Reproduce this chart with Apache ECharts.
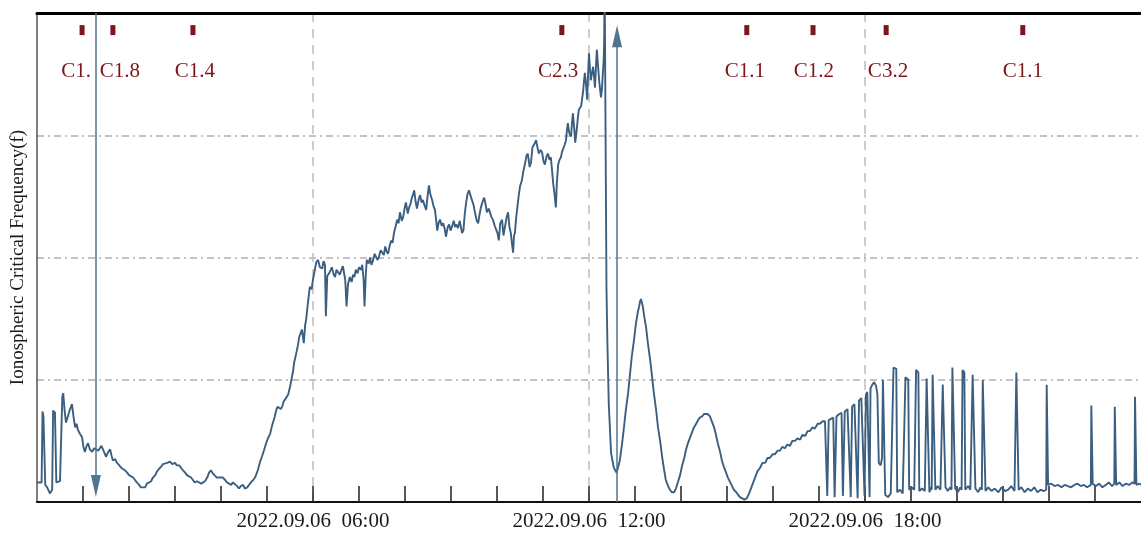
<!DOCTYPE html>
<html><head><meta charset="utf-8">
<script src="https://cdn.jsdelivr.net/npm/echarts@6/dist/echarts.min.js"></script>
<style>html,body{margin:0;padding:0;background:#fff}#c{width:1141px;height:534px}</style>
</head><body><div id="c"></div>
<script>
// time in hours of 2022.09.06, value = ionospheric critical frequency (relative units)
const segNight = [[0,0.16],[0.1,0.16],[0.12,0.74],[0.14,0.7],[0.18,0.14],[0.22,0.12],[0.28,0.07],[0.33,0.1],[0.35,0.75],[0.37,0.72],[0.39,0.74],[0.42,0.16],[0.46,0.15],[0.5,0.17],[0.53,0.16],[0.55,0.86],[0.57,0.89],[0.6,0.75],[0.63,0.65],[0.67,0.7],[0.72,0.76],[0.76,0.8],[0.8,0.68],[0.83,0.61],[0.86,0.64],[0.89,0.59],[0.93,0.56],[0.98,0.53],[1.01,0.45],[1.04,0.41],[1.08,0.46],[1.11,0.48],[1.15,0.43],[1.2,0.41],[1.24,0.44],[1.28,0.45],[1.33,0.42],[1.37,0.41],[1.4,0.46],[1.43,0.45],[1.47,0.4],[1.5,0.37],[1.55,0.41],[1.59,0.43],[1.62,0.38],[1.65,0.34],[1.7,0.35],[1.74,0.32],[1.79,0.3],[1.83,0.28],[1.87,0.29],[1.91,0.26],[1.96,0.24],[2.0,0.22],[2.04,0.23],[2.09,0.2],[2.13,0.18],[2.17,0.16],[2.22,0.14],[2.26,0.12],[2.3,0.13],[2.35,0.12],[2.39,0.15],[2.43,0.14],[2.48,0.17],[2.52,0.2],[2.57,0.22],[2.61,0.25],[2.65,0.27],[2.7,0.29],[2.74,0.31],[2.78,0.3],[2.83,0.32],[2.89,0.33],[2.94,0.31],[3.0,0.32],[3.04,0.3],[3.09,0.3],[3.13,0.28],[3.17,0.26],[3.22,0.24],[3.26,0.22],[3.3,0.21],[3.35,0.2],[3.39,0.18],[3.43,0.16],[3.48,0.17],[3.52,0.18],[3.57,0.15],[3.61,0.14],[3.65,0.17],[3.7,0.2],[3.74,0.24],[3.78,0.26],[3.83,0.23],[3.87,0.22],[3.91,0.2],[3.96,0.2],[4.0,0.19],[4.04,0.2],[4.09,0.18],[4.13,0.16],[4.17,0.15],[4.22,0.14],[4.26,0.16],[4.3,0.16],[4.35,0.13],[4.39,0.11],[4.43,0.13],[4.48,0.14],[4.52,0.11],[4.57,0.12],[4.61,0.14],[4.65,0.16],[4.7,0.18],[4.74,0.2],[4.8,0.26]];
const segMorning = [[4.85,0.33],[4.89,0.37],[4.94,0.43],[4.98,0.48],[5.02,0.52],[5.07,0.56],[5.1,0.61],[5.13,0.65],[5.17,0.7],[5.2,0.75],[5.23,0.78],[5.26,0.79],[5.3,0.76],[5.33,0.78],[5.36,0.82],[5.39,0.83],[5.43,0.86],[5.46,0.88],[5.5,0.94],[5.54,1.02],[5.57,1.08],[5.59,1.14],[5.62,1.19],[5.65,1.24],[5.68,1.3],[5.7,1.35],[5.73,1.38],[5.76,1.41],[5.8,1.3],[5.83,1.45],[5.85,1.49],[5.89,1.63],[5.93,1.76],[5.97,1.74],[6.0,1.82],[6.04,1.9],[6.07,1.96],[6.11,1.98],[6.15,1.92],[6.2,1.91],[6.23,1.97],[6.26,1.94],[6.28,1.52],[6.31,1.85],[6.35,1.87],[6.41,1.92],[6.45,1.86],[6.48,1.84],[6.51,1.9],[6.54,1.9],[6.58,1.86],[6.61,1.87],[6.65,1.93],[6.67,1.92],[6.7,1.82],[6.73,1.6],[6.76,1.78],[6.8,1.84],[6.84,1.8],[6.87,1.86],[6.9,1.84],[6.93,1.9],[6.97,1.87],[7.0,1.92],[7.04,1.9],[7.07,1.94],[7.1,1.82],[7.12,1.6],[7.15,1.88],[7.17,1.98],[7.21,1.95],[7.24,2.0],[7.27,1.94],[7.3,1.97],[7.34,2.03],[7.37,2.04],[7.4,1.98],[7.43,2.0],[7.47,2.06],[7.5,2.06],[7.54,2.02],[7.57,2.09],[7.6,2.05],[7.63,2.03],[7.67,2.1],[7.7,2.14],[7.73,2.12],[7.76,2.2],[7.8,2.26],[7.83,2.31],[7.86,2.28],[7.89,2.37],[7.93,2.3],[7.96,2.33],[7.99,2.4],[8.02,2.45],[8.06,2.36],[8.09,2.41],[8.12,2.44],[8.15,2.49],[8.18,2.52],[8.2,2.55],[8.23,2.46],[8.26,2.4],[8.3,2.48],[8.33,2.51],[8.36,2.45],[8.39,2.47],[8.43,2.42],[8.46,2.39],[8.49,2.5],[8.52,2.59],[8.55,2.52],[8.59,2.47],[8.62,2.42],[8.65,2.39],[8.68,2.3],[8.7,2.22],[8.73,2.28],[8.76,2.31],[8.8,2.26],[8.83,2.28],[8.86,2.24],[8.89,2.17],[8.93,2.25],[8.96,2.27],[8.99,2.22],[9.02,2.25],[9.06,2.3],[9.09,2.25],[9.12,2.27],[9.15,2.24],[9.19,2.3],[9.22,2.31],[9.24,2.2],[9.27,2.22],[9.3,2.36],[9.33,2.45],[9.36,2.52],[9.39,2.55],[9.43,2.5],[9.46,2.49],[9.49,2.43],[9.52,2.37],[9.56,2.3],[9.59,2.28],[9.62,2.35],[9.65,2.41],[9.69,2.46],[9.72,2.49],[9.75,2.44],[9.78,2.37],[9.82,2.4],[9.85,2.39],[9.88,2.33],[9.91,2.31],[9.95,2.26],[9.98,2.25],[10.01,2.2],[10.04,2.14],[10.07,2.28],[10.11,2.31],[10.14,2.18],[10.17,2.17],[10.21,2.33],[10.24,2.37],[10.27,2.25],[10.3,2.2],[10.33,2.1],[10.35,2.04],[10.37,2.18],[10.39,2.2],[10.41,2.3],[10.43,2.37],[10.47,2.5],[10.5,2.58],[10.54,2.63],[10.57,2.7],[10.61,2.77],[10.64,2.83],[10.67,2.85],[10.71,2.74],[10.74,2.78],[10.77,2.9],[10.8,2.9],[10.83,2.94],[10.85,2.96],[10.88,2.9],[10.91,2.85],[10.95,2.88],[10.98,2.86],[11.01,2.79],[11.04,2.76],[11.08,2.83],[11.11,2.85],[11.14,2.8],[11.17,2.82],[11.2,2.7],[11.22,2.61],[11.25,2.52],[11.28,2.41],[11.3,2.6],[11.33,2.76],[11.36,2.8],[11.39,2.82],[11.41,2.86],[11.43,2.85],[11.47,2.92],[11.5,2.96],[11.52,3.04],[11.54,3.1],[11.57,3.02],[11.61,2.99],[11.63,3.1],[11.65,3.18],[11.68,3.05],[11.7,2.94],[11.72,3.0],[11.74,3.07],[11.76,3.15],[11.78,3.21],[11.81,3.2],[11.83,3.24],[11.85,3.3],[11.87,3.35],[11.89,3.44],[11.91,3.51],[11.94,3.4],[11.96,3.29],[11.98,3.5],[12.0,3.67],[12.02,3.55],[12.04,3.45],[12.06,3.5],[12.09,3.56],[12.11,3.48],[12.13,3.39],[12.15,3.55],[12.17,3.7],[12.2,3.55],[12.22,3.45],[12.24,3.38],[12.26,3.31],[12.28,3.37],[12.3,3.5],[12.32,3.62],[12.33,3.78],[12.34,4.3]];
const segDescent = [[12.37,4.3],[12.38,1.75],[12.4,1.3],[12.43,0.8],[12.48,0.4],[12.54,0.28],[12.6,0.24]];
const segAfternoon = [[12.63,0.28],[12.67,0.34],[12.72,0.48],[12.76,0.61],[12.8,0.75],[12.85,0.89],[12.89,1.04],[12.93,1.19],[12.98,1.33],[13.02,1.46],[13.06,1.55],[13.09,1.6],[13.11,1.64],[13.13,1.66],[13.15,1.63],[13.17,1.6],[13.2,1.52],[13.24,1.43],[13.28,1.3],[13.33,1.16],[13.37,1.03],[13.41,0.89],[13.46,0.75],[13.5,0.61],[13.55,0.49],[13.59,0.37],[13.63,0.27],[13.67,0.18],[13.72,0.13],[13.76,0.1],[13.8,0.08],[13.85,0.08],[13.89,0.11],[13.93,0.16],[13.98,0.22],[14.02,0.29],[14.07,0.36],[14.11,0.43],[14.15,0.48],[14.2,0.53],[14.24,0.57],[14.28,0.61],[14.33,0.64],[14.37,0.67],[14.41,0.69],[14.46,0.7],[14.5,0.72],[14.54,0.73],[14.58,0.72],[14.63,0.7],[14.67,0.66],[14.72,0.61],[14.76,0.55],[14.8,0.48],[14.85,0.41],[14.89,0.34],[14.93,0.29],[14.98,0.24],[15.02,0.2],[15.07,0.16],[15.11,0.13],[15.15,0.1],[15.2,0.08],[15.24,0.06],[15.28,0.04],[15.33,0.03],[15.38,0.02],[15.43,0.03],[15.48,0.07],[15.52,0.11],[15.57,0.16],[15.61,0.2],[15.66,0.25],[15.72,0.28],[15.77,0.32],[15.83,0.32],[15.88,0.36],[15.93,0.36],[15.99,0.39],[16.04,0.39],[16.1,0.42],[16.15,0.42],[16.2,0.45],[16.26,0.44],[16.31,0.47],[16.37,0.46],[16.42,0.5],[16.48,0.5],[16.53,0.52],[16.59,0.51],[16.64,0.55],[16.7,0.54],[16.75,0.58],[16.8,0.58],[16.86,0.61],[16.91,0.6],[16.97,0.64],[17.02,0.64],[17.08,0.66],[17.13,0.66]];
const segEvening = [[17.15,0.66],[17.18,0.05],[17.21,0.67],[17.26,0.68],[17.31,0.69],[17.34,0.04],[17.38,0.7],[17.44,0.72],[17.49,0.73],[17.52,0.05],[17.56,0.74],[17.62,0.76],[17.66,0.77],[17.69,0.04],[17.72,0.78],[17.77,0.8],[17.81,0.81],[17.84,0.03],[17.87,0.83],[17.92,0.85],[17.96,0.86],[17.99,0.05],[18.02,0.88],[18.05,0.9],[18.08,0.91],[18.1,0.04],[18.12,0.93],[18.16,0.96],[18.2,0.98],[18.24,0.95],[18.27,0.88],[18.3,0.32],[18.34,0.3],[18.37,0.36],[18.39,1.0],[18.42,1.0],[18.44,0.06],[18.5,0.04],[18.56,0.07],[18.6,0.06],[18.62,1.1],[18.68,1.09],[18.7,0.08],[18.76,0.1],[18.82,0.07],[18.86,0.08],[18.88,1.02],[18.94,1.0],[18.96,0.1],[19.02,0.12],[19.07,0.1],[19.09,0.1],[19.11,1.08],[19.16,1.06],[19.18,0.09],[19.24,0.11],[19.3,0.09],[19.32,0.1],[19.34,1.01],[19.38,1.0],[19.4,0.08],[19.44,0.12],[19.45,0.1],[19.47,1.04],[19.51,1.03],[19.53,0.1],[19.58,0.13],[19.64,0.1],[19.67,0.11],[19.69,0.96],[19.73,0.95],[19.75,0.12],[19.8,0.09],[19.85,0.12],[19.88,0.1],[19.9,1.1],[19.94,1.09],[19.96,0.11],[20.02,0.08],[20.07,0.12],[20.1,0.1],[20.12,1.08],[20.16,1.06],[20.18,0.1],[20.24,0.13],[20.29,0.1],[20.32,0.09],[20.34,1.04],[20.38,1.03],[20.4,0.11],[20.46,0.08],[20.51,0.12],[20.54,0.1],[20.56,1.0],[20.6,0.99],[20.62,0.09],[20.68,0.12],[20.75,0.09],[20.82,0.11],[20.9,0.08],[20.97,0.12],[21.04,0.09],[21.11,0.1],[21.18,0.13],[21.25,0.09],[21.27,0.1],[21.29,1.06],[21.32,1.05],[21.34,0.1],[21.4,0.12],[21.47,0.08],[21.54,0.11],[21.61,0.09],[21.68,0.12],[21.75,0.08],[21.82,0.1],[21.89,0.09],[21.94,0.1],[21.95,0.96],[21.97,0.95],[21.98,0.14],[22.05,0.15],[22.12,0.13],[22.2,0.14],[22.27,0.12],[22.34,0.14],[22.41,0.13],[22.48,0.12],[22.55,0.14],[22.62,0.15],[22.69,0.13],[22.76,0.14],[22.83,0.12],[22.91,0.14],[22.92,0.79],[22.94,0.78],[22.95,0.15],[23.02,0.13],[23.09,0.15],[23.16,0.12],[23.23,0.14],[23.3,0.16],[23.37,0.13],[23.42,0.15],[23.43,0.78],[23.45,0.77],[23.46,0.14],[23.53,0.16],[23.6,0.13],[23.67,0.15],[23.74,0.14],[23.81,0.16],[23.86,0.15],[23.87,0.86],[23.89,0.85],[23.9,0.14],[23.97,0.15],[24.0,0.14]];

const flareNames = ['C1.','C1.8','C1.4','C2.3','C1.1','C1.2','C3.2','C1.1'];
const flareHours = [0.98,1.65,3.39,11.41,15.43,16.87,18.46,21.43];
const flareLabelHours = [0.85,1.8,3.43,11.33,15.39,16.89,18.5,21.43];
const arrowHours = [1.28,12.61];
const xLabelHours = [6,12,18];
const xLabelTexts = ['2022.09.06  06:00','2022.09.06  12:00','2022.09.06  18:00'];
const yAxisTitle = 'Ionospheric Critical Frequency(f)';

const foF2 = segNight.concat(segMorning, segDescent, segAfternoon, segEvening);
const serif = 'Liberation Serif';
const chart = echarts.init(document.getElementById('c'), null, {renderer:'canvas'});
chart.setOption({
  animation:false,
  backgroundColor:'#fff',
  grid:{left:37, right:0, top:13, bottom:32},
  xAxis:[
    {type:'value', min:0, max:24, interval:1, position:'bottom',
     axisLine:{lineStyle:{color:'#111', width:2}},
     axisTick:{inside:true, length:16, lineStyle:{color:'#222', width:1.5}},
     axisLabel:{margin:9, fontFamily:serif, fontSize:21, color:'#1a1a1a', showMinLabel:false, showMaxLabel:false,
       formatter:function(v){ const i = xLabelHours.indexOf(Math.round(v)); return (i>=0 && Math.abs(v-xLabelHours[i])<1e-6) ? xLabelTexts[i] : ''; }},
     splitLine:{show:false}},
    {type:'value', min:0, max:24, interval:6, position:'top',
     axisLine:{lineStyle:{color:'#000', width:3}},
     axisTick:{show:false}, axisLabel:{show:false},
     splitLine:{show:true, showMinLine:false, showMaxLine:false, lineStyle:{type:[9,7], color:'#bdbdbd', width:1.5}}}
  ],
  yAxis:{type:'value', min:0, max:4, interval:1,
    name:yAxisTitle, nameLocation:'middle', nameGap:9,
    nameTextStyle:{fontFamily:serif, fontSize:19, color:'#1a1a1a'},
    axisLine:{show:true, lineStyle:{color:'#555', width:1.5}},
    axisTick:{show:false}, axisLabel:{show:false},
    splitLine:{show:true, showMinLine:false, showMaxLine:false, lineStyle:{type:[7,4,2,4], color:'#b0b0b0', width:1.5}}},
  series:[
    {type:'line', data:foF2, symbol:'none', showSymbol:false, clip:true, silent:true,
     lineStyle:{color:'#3b5f80', width:1.9},
     markLine:{silent:true, symbol:['none','triangle'], symbolSize:[10,22], label:{show:false},
       lineStyle:{color:'#4f7590', width:1.5, type:'solid', opacity:1},
       data:[
         [{coord:[arrowHours[0],4]},{coord:[arrowHours[0],0.13]}],
         [{coord:[arrowHours[1],0]},{coord:[arrowHours[1],3.81]}]
       ]}},
    {type:'scatter', silent:true, symbol:'rect', symbolSize:[5,10], itemStyle:{color:'#7e1420', opacity:1},
     data:flareHours.map(h=>[h,3.86])},
    {type:'scatter', silent:true, symbolSize:1, itemStyle:{color:'rgba(0,0,0,0)', opacity:1},
     label:{show:true, position:'inside', color:'#7d1418', fontFamily:serif, fontSize:21},
     data:flareLabelHours.map((h,i)=>({value:[h,3.52], label:{formatter:flareNames[i]}}))}
  ]
});
</script></body></html>
